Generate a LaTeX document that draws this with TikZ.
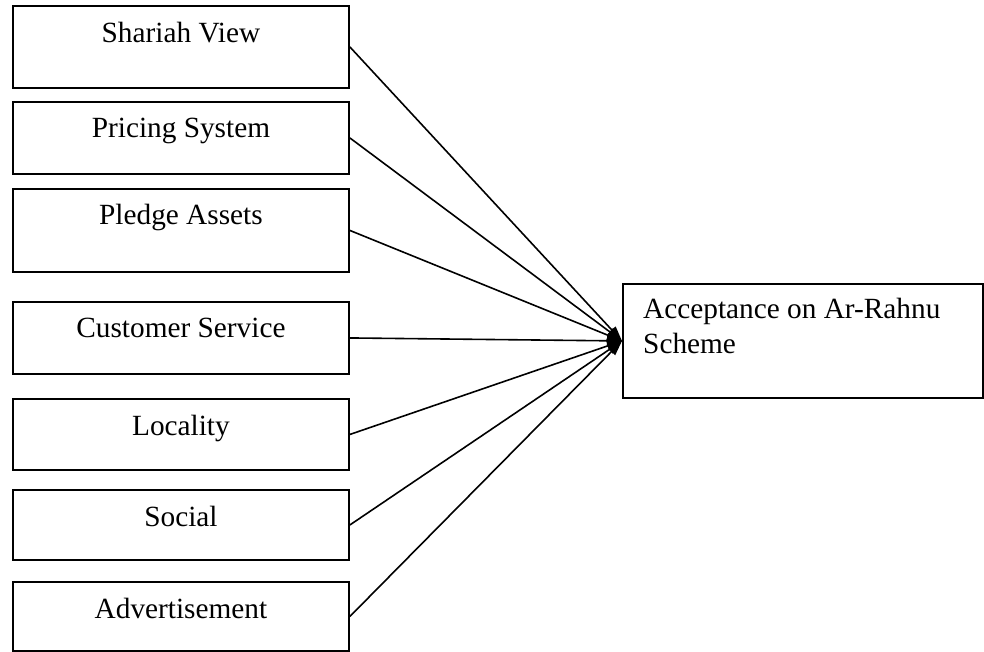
\documentclass[tikz,border=0pt]{standalone}
\usepackage{fontspec}
\setmainfont{Liberation Serif}
\usetikzlibrary{arrows.meta}
\begin{document}
\begin{tikzpicture}[x=1pt,y=-1pt,
  factorbox/.style={draw,line width=1.9pt,rectangle,inner sep=0pt,
    minimum width=336pt,anchor=north west},
  factortext/.style={anchor=base,inner sep=0pt,font=\fontsize{29.3}{35}\selectfont},
  link/.style={line width=1.6pt,-{Triangle[length=15pt,width=10pt]}}
]
\useasboundingbox (0,0) rectangle (984,652);

% factor boxes on the left
\node[factorbox,minimum height=82pt] (b1) at (12,5) {};
\node[factorbox,minimum height=72pt] (b2) at (12,101) {};
\node[factorbox,minimum height=83pt] (b3) at (12,188) {};
\node[factorbox,minimum height=72pt] (b4) at (12,301) {};
\node[factorbox,minimum height=71pt] (b5) at (12,398) {};
\node[factorbox,minimum height=70pt] (b6) at (12,489) {};
\node[factorbox,minimum height=69pt] (b7) at (12,581) {};

\node[factortext] (t1) at ([yshift=-38pt]b1.north) {Shariah View};
\node[factortext] (t2) at ([yshift=-37pt]b2.north) {Pricing System};
\node[factortext] (t3) at ([yshift=-37pt]b3.north) {Pledge Assets};
\node[factortext] (t4) at ([yshift=-36pt]b4.north) {Customer Service};
\node[factortext] (t5) at ([yshift=-37pt]b5.north) {Locality};
\node[factortext] (t6) at ([yshift=-37pt]b6.north) {Social};
\node[factortext] (t7) at ([yshift=-37pt]b7.north) {Advertisement};

% outcome box on the right
\node[draw,line width=1.9pt,rectangle,inner sep=0pt,minimum width=360pt,
  minimum height=114pt,anchor=north west] (acc) at (622,283) {};
\node[anchor=base west,inner sep=0pt,align=left,
  font=\fontsize{29.3}{35}\selectfont] (acct) at (643,353)
  {Acceptance on Ar-Rahnu\\Scheme};

% links from each factor to the outcome
\foreach \b in {b1,b2,b3,b4,b5,b6,b7}
  \draw[link] (\b.east) -- (acc.west);
\end{tikzpicture}
\end{document}
